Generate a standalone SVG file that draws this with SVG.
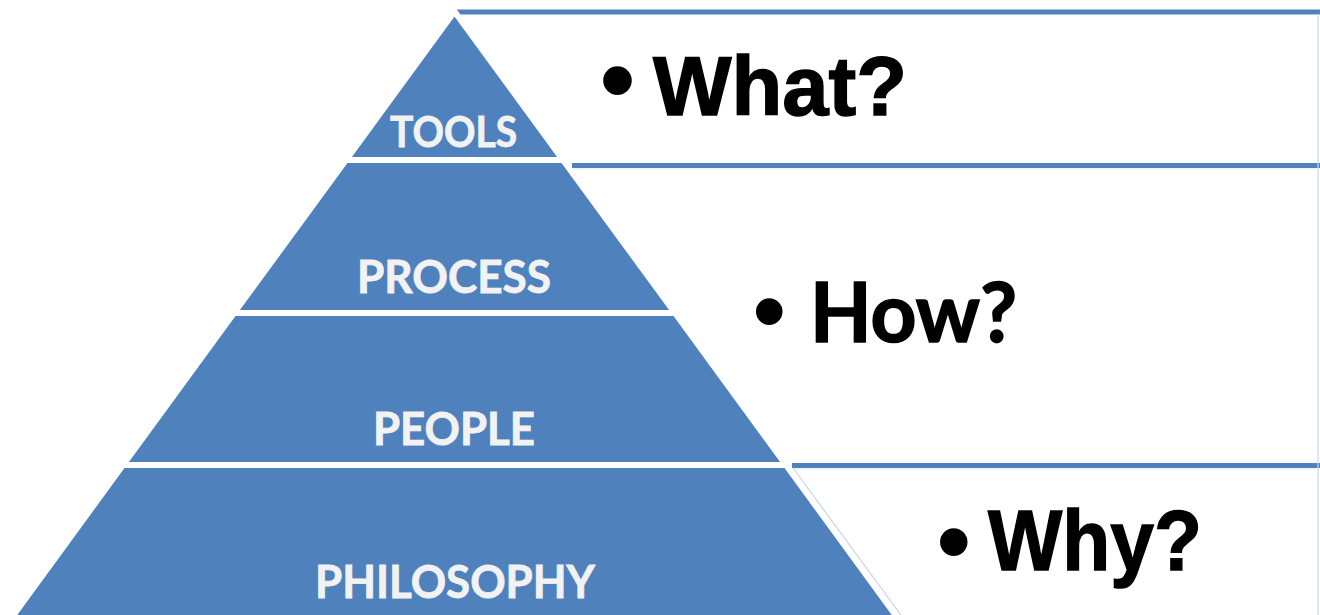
<svg xmlns="http://www.w3.org/2000/svg" width="1320" height="615" viewBox="0 0 1320 615">
<style>
.layer{fill:#4F81BD;stroke:#FFFFFF;stroke-width:6;stroke-linejoin:miter}
.lbl{font-family:Lato,"Open Sans","Liberation Sans",sans-serif;font-weight:700;fill:#F2F2F2;stroke:#F2F2F2;stroke-width:0.8;text-anchor:middle}
.rule{stroke:#4F81BD;stroke-width:5;fill:none}
.faint{stroke:#C6D6EA;stroke-width:1.2;fill:none}
.q{font-family:"Liberation Sans",Arial,sans-serif;font-weight:700;fill:#000000;stroke:#000000;stroke-width:1.4}
.qc{font-family:Lato,"Open Sans",sans-serif;font-weight:700;fill:#000000;stroke:#000000;stroke-width:1.6}
.b{font-family:"Liberation Sans",Arial,sans-serif;font-weight:700;fill:#000000}
</style>
<rect width="1320" height="615" fill="#FFFFFF"/>
<g id="panels">
  <line class="rule" x1="455" y1="12" x2="1320" y2="12"/>
  <line class="rule" x1="572" y1="165.5" x2="1320" y2="165.5"/>
  <line class="rule" x1="792" y1="465.5" x2="1320" y2="465.5"/>
  <line class="faint" x1="574" y1="169" x2="1316" y2="169" stroke-dasharray="1 1"/>
  <line class="faint" x1="794" y1="469" x2="1316" y2="469" stroke-dasharray="1 1"/>
  <line class="faint" x1="1318" y1="14" x2="1318" y2="615"/>
  <line class="faint" x1="793" y1="468" x2="901" y2="615"/>
</g>
<g id="tools">
  <polygon class="layer" points="454.5,11.5 563,160 346,160"/>
  <text class="lbl" x="453.5" y="147" font-size="41.5" textLength="127" lengthAdjust="spacingAndGlyphs">TOOLS</text>
</g>
<g id="process">
  <polygon class="layer" points="346,160 563,160 675,313 234,313"/>
  <text class="lbl" x="454" y="293" font-size="46" textLength="194" lengthAdjust="spacingAndGlyphs">PROCESS</text>
</g>
<g id="people">
  <polygon class="layer" points="234,313 675,313 786,465 123,465"/>
  <text class="lbl" x="454" y="445" font-size="46" textLength="162" lengthAdjust="spacingAndGlyphs">PEOPLE</text>
</g>
<g id="philosophy">
  <polygon class="layer" points="123,465 786,465 902,624 7,624"/>
  <text class="lbl" x="455" y="598" font-size="46" textLength="280" lengthAdjust="spacingAndGlyphs">PHILOSOPHY</text>
</g>
<g id="what">
  <text class="b" x="600" y="114" font-size="100">•</text>
  <text class="q" x="653" y="115" font-size="84" textLength="254" lengthAdjust="spacingAndGlyphs">What?</text>
</g>
<g id="how">
  <text class="b" x="753" y="342" font-size="93">•</text>
  <text class="qc" x="810" y="342" font-size="83" textLength="207" lengthAdjust="spacingAndGlyphs">How?</text>
</g>
<g id="why">
  <text class="b" x="937" y="574" font-size="96">•</text>
  <text class="q" x="988" y="570" font-size="86" textLength="214" lengthAdjust="spacingAndGlyphs">Why?</text>
</g>
</svg>
